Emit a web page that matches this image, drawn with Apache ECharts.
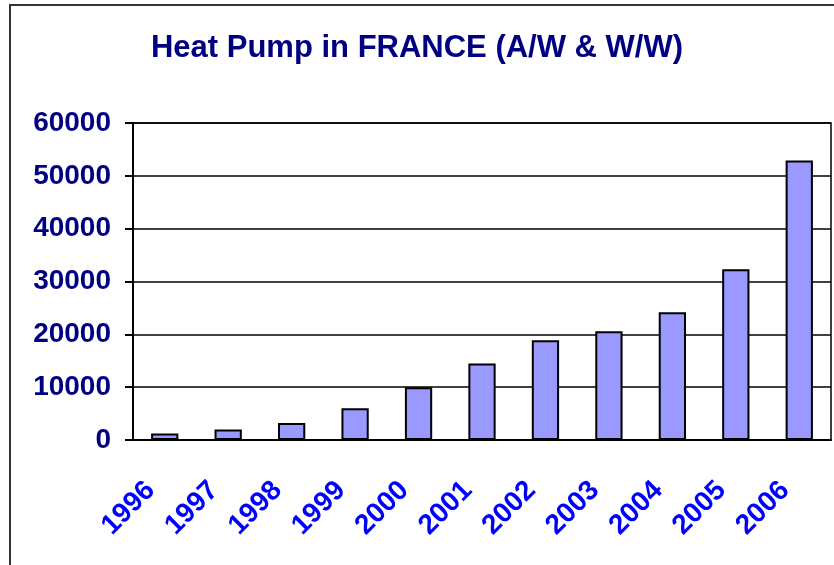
<!DOCTYPE html>
<html>
<head>
<meta charset="utf-8">
<script src="https://cdn.jsdelivr.net/npm/echarts@6/dist/echarts.min.js"></script>
<style>
  html, body { margin: 0; padding: 0; background: #fff; }
  #chart { width: 834px; height: 565px; }
</style>
</head>
<body>
<div id="chart"></div>
<script>
const years = ['1996', '1997', '1998', '1999', '2000', '2001', '2002', '2003', '2004', '2005', '2006'];
const installs = [1250, 2000, 3200, 6000, 10000, 14500, 18900, 20600, 24200, 32300, 52900];

const chart = echarts.init(document.getElementById('chart'));

const option = {
  animation: false,
  title: {
    text: 'Heat Pump in FRANCE (A/W & W/W)',
    left: 'center',
    top: 28,
    textStyle: { fontFamily: 'Liberation Sans, Arial', fontSize: 31, fontWeight: 'bold', color: '#000080' },
  },
  graphic: [
    {
      type: 'rect',
      shape: { x: 10, y: 5, width: 1000, height: 800 },
      style: { fill: 'none', stroke: '#333', lineWidth: 2 },
      silent: true,
    },
  ],
  grid: {
    left: 133,
    right: 3,
    top: 123,
    bottom: 125,
    show: true,
    borderColor: '#000',
    borderWidth: 1.5,
  },
  xAxis: {
    type: 'category',
    data: years,
    axisLine: { lineStyle: { color: '#000', width: 2 } },
    axisTick: { length: 9, lineStyle: { color: '#000', width: 2 } },
    axisLabel: {
      interval: 0,
      rotate: 45,
      margin: 32,
      padding: [0, 20, 0, 0],
      fontFamily: 'Liberation Sans, Arial',
      fontSize: 28,
      fontWeight: 'bold',
      color: '#0000FF',
    },
  },
  yAxis: {
    type: 'value',
    min: 0,
    max: 60000,
    interval: 10000,
    axisLine: { show: true, lineStyle: { color: '#000', width: 2 } },
    axisTick: { show: true, length: 8, lineStyle: { color: '#000', width: 2 } },
    splitLine: { lineStyle: { color: '#000', width: 1.5 } },
    axisLabel: {
      margin: 22,
      formatter: (v) => String(v),
      fontFamily: 'Liberation Sans, Arial',
      fontSize: 28,
      fontWeight: 'bold',
      color: '#000080',
    },
  },
  series: [
    {
      type: 'bar',
      data: installs,
      barWidth: '43%',
      itemStyle: { color: '#9999FF', borderColor: '#000', borderWidth: 2 },
    },
  ],
};

chart.setOption(option);
</script>
</body>
</html>
